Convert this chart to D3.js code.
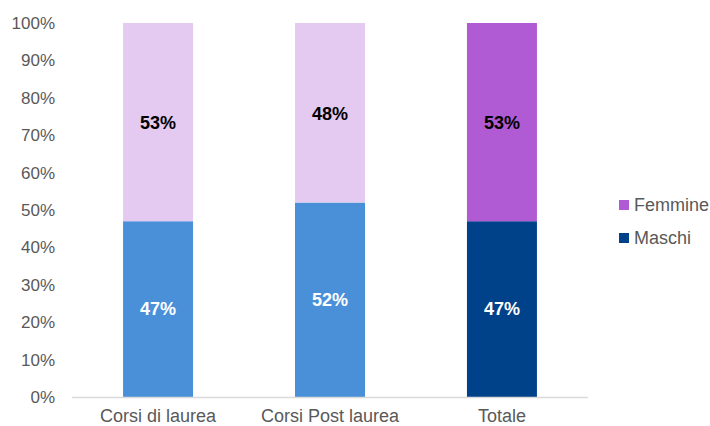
<!DOCTYPE html>
<html><head><meta charset="utf-8">
<script src="https://cdn.jsdelivr.net/npm/d3@7"></script>
<style>body{margin:0;background:#fff}svg{display:block;font-family:"Liberation Sans",Arial,sans-serif}</style>
</head><body>
<svg id="c" width="710" height="426"></svg>
<script>
const categories = ["Corsi di laurea", "Corsi Post laurea", "Totale"];
const maschi = [47, 52, 47];
const femmine = [53, 48, 53];
const yTicks = [0, 10, 20, 30, 40, 50, 60, 70, 80, 90, 100];
const seriesNames = ["Femmine", "Maschi"];

const maschiColors = ["#4a90d9", "#4a90d9", "#00428a"];
const femmineColors = ["#e4c9f0", "#e4c9f0", "#b05ad3"];
const legendColors = ["#b05ad3", "#00428a"];

const svg = d3.select("#c");
const m = {l: 72, r: 122, t: 23, b: 29};
const W = 710, H = 426;
const x = d3.scaleBand().domain(categories).range([m.l, W - m.r]).paddingInner(0.593).paddingOuter(0.297);
const y = d3.scaleLinear().domain([0, 100]).range([H - m.b, m.t]);

const g = svg.append("g");
categories.forEach((c, i) => {
  const bx = x(c), bw = x.bandwidth();
  g.append("rect").attr("x", bx).attr("width", bw)
    .attr("y", y(maschi[i])).attr("height", y(0) - y(maschi[i])).attr("fill", maschiColors[i]);
  g.append("rect").attr("x", bx).attr("width", bw)
    .attr("y", y(maschi[i] + femmine[i])).attr("height", y(maschi[i]) - y(maschi[i] + femmine[i])).attr("fill", femmineColors[i]);
  g.append("text").attr("x", bx + bw / 2).attr("y", (y(0) + y(maschi[i])) / 2).attr("dy", "0.35em")
    .attr("text-anchor", "middle").attr("font-size", 18).attr("font-weight", "bold").attr("fill", "#fff")
    .text(maschi[i] + "%");
  g.append("text").attr("x", bx + bw / 2).attr("y", (y(maschi[i]) + y(maschi[i] + femmine[i])) / 2 + 1).attr("dy", "0.35em")
    .attr("text-anchor", "middle").attr("font-size", 18).attr("font-weight", "bold").attr("fill", "#000")
    .text(femmine[i] + "%");
});

// y axis
const ya = svg.append("g").attr("transform", `translate(${m.l},0)`)
  .call(d3.axisLeft(y).tickValues(yTicks).tickFormat(d => d + "%").tickSize(0).tickPadding(17));
ya.select(".domain").remove();
ya.selectAll("text").attr("font-size", 17).attr("fill", "#595959").attr("font-family", "Liberation Sans, Arial, sans-serif");

// x axis
const xa = svg.append("g").attr("transform", `translate(0,${y(0)})`)
  .call(d3.axisBottom(x).tickSize(0).tickPadding(12));
xa.select(".domain").attr("stroke", "#d9d9d9").attr("stroke-width", 1.5).attr("d", `M${m.l},0.5H${W - m.r}`);
xa.selectAll("text").attr("font-size", 18).attr("fill", "#595959").attr("font-family", "Liberation Sans, Arial, sans-serif");

// legend
const lg = svg.append("g");
seriesNames.forEach((s, i) => {
  const ly = 205 + i * 33;
  lg.append("rect").attr("x", 619).attr("y", ly - 5).attr("width", 10).attr("height", 10).attr("fill", legendColors[i]);
  lg.append("text").attr("x", 634).attr("y", ly).attr("dy", "0.35em").attr("font-size", 18).attr("fill", "#595959").text(s);
});
</script>
</body></html>
